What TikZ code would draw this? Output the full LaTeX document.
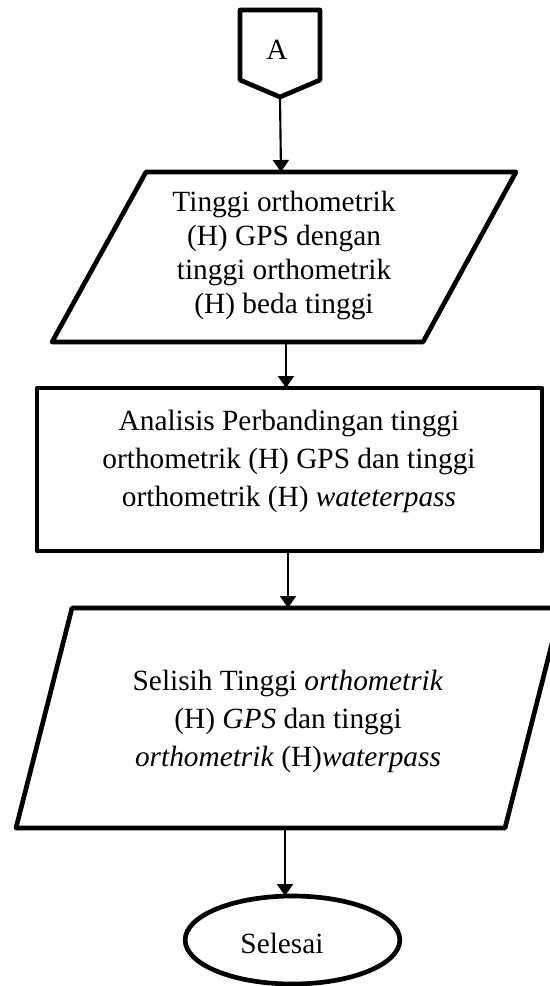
\documentclass[tikz,border=0pt]{standalone}
\usepackage{fontspec}
\setmainfont{Liberation Serif}
\usetikzlibrary{arrows.meta,shapes.geometric}
\begin{document}
\begin{tikzpicture}[x=0.75pt,y=-0.75pt,
  shapeline/.style={line width=3.5pt,line join=round},
  flow/.style={line width=1.6pt,-{Triangle[width=12pt,length=9pt]}},
  txt/.style={align=center,inner sep=0pt,font=\fontsize{22}{25.5}\selectfont},
  txtwide/.style={align=center,inner sep=0pt,font=\fontsize{22}{28.5}\selectfont}]
\useasboundingbox (0,0) rectangle (550,986);
% off-page connector A
\coordinate (a1) at (240,10);
\coordinate (a2) at (320,10);
\coordinate (a3) at (320,80);
\coordinate (abot) at (280,97);
\coordinate (a5) at (240,80);
\draw[shapeline] (a1) -- (a2) -- (a3) -- (abot) -- (a5) -- cycle;
\node[txt] (A) at (277,50) {A};
% parallelogram 1
\coordinate (p1tl) at (146,172);
\coordinate (p1tr) at (516,172);
\coordinate (p1br) at (423,342);
\coordinate (p1bl) at (52,342);
\draw[shapeline] (p1tl) -- (p1tr) -- (p1br) -- (p1bl) -- cycle;
\node[txt] (t1) at (284,255) {Tinggi orthometrik\\(H) GPS dengan\\tinggi orthometrik\\(H) beda tinggi};
\coordinate (p1top) at (281,172);
\coordinate (p1bot) at (286,342);
% process rectangle
\coordinate (rtl) at (37,388);
\coordinate (rbr) at (542,551);
\draw[shapeline] (rtl) rectangle (rbr);
\node[txtwide] (t2) at (289,461) {Analisis Perbandingan tinggi\\orthometrik (H) GPS dan tinggi\\orthometrik (H) \textit{wateterpass}};
\coordinate (rtop) at (286,388);
\coordinate (rbot) at (288,551);
% parallelogram 2
\coordinate (p2tl) at (72,608);
\coordinate (p2tr) at (561,608);
\coordinate (p2br) at (505,828);
\coordinate (p2bl) at (16,828);
\draw[shapeline] (p2tl) -- (p2tr) -- (p2br) -- (p2bl) -- cycle;
\node[txtwide] (t3) at (288,721) {Selisih Tinggi \textit{orthometrik}\\(H) \textit{GPS} dan tinggi\\\textit{orthometrik} (H)\textit{waterpass}};
\coordinate (p2top) at (288,608);
\coordinate (p2bot) at (285,828);
% terminator
\node[draw,ellipse,line width=3.5pt,minimum width=161pt,minimum height=66pt,inner sep=0pt] (E) at (292.5,940) {};
\node[txt] (t4) at (282,943) {Selesai};
\coordinate (etop) at (285,896);
% connectors
\draw[flow] (abot) -- (p1top);
\draw[flow] (p1bot) -- (rtop);
\draw[flow] (rbot) -- (p2top);
\draw[flow] (p2bot) -- (etop);
\end{tikzpicture}
\end{document}
